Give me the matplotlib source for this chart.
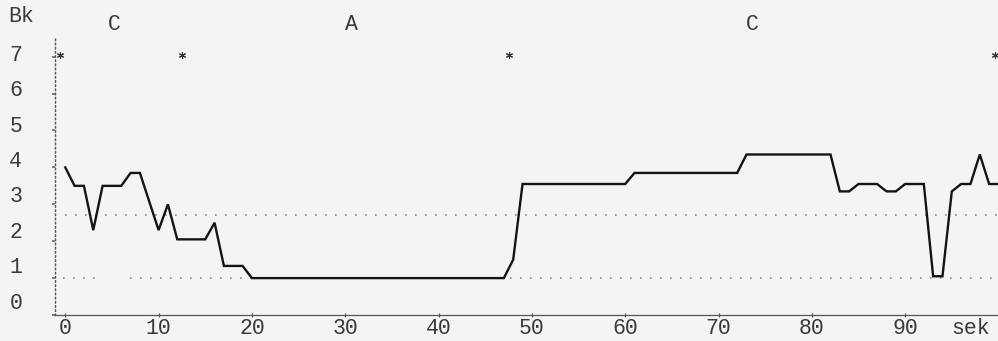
import matplotlib
matplotlib.use("Agg")
import matplotlib.pyplot as plt
import numpy as np

# Time (s) and Bk values of the trace
seconds = [0, 1, 2, 3, 4, 6, 7, 8, 10, 11, 12, 15, 16, 17, 19, 20,
           47, 48, 49, 60, 61, 72, 73, 82, 83, 84, 85, 87, 88, 89, 90,
           92, 93, 94, 95, 96, 97, 98, 99, 100]
bk = [4.0, 3.5, 3.5, 2.3, 3.5, 3.5, 3.85, 3.85, 2.3, 3.0, 2.05, 2.05, 2.5,
      1.33, 1.33, 1.0, 1.0, 1.5, 3.55, 3.55, 3.85, 3.85, 4.35, 4.35, 3.35,
      3.35, 3.55, 3.55, 3.35, 3.35, 3.55, 3.55, 1.05, 1.05, 3.35, 3.55,
      3.55, 4.35, 3.55, 3.55]

# Reference levels
upper_level = 2.72
lower_level = 1.0

# Segment markers and phase labels
marker_times = [-0.6, 12.5, 47.5, 99.6]
marker_level = 7.05
phase_labels = ["C", "A", "C"]
phase_times = [5.3, 30.7, 73.6]

x_ticks = [0, 10, 20, 30, 40, 50, 60, 70, 80, 90]
y_ticks = [0, 1, 2, 3, 4, 5, 6, 7]

bg = "#f4f4f2"
ink = "#3a3a3a"
font = ["Liberation Mono", "DejaVu Sans Mono"]
fs = 15.5

fig = plt.figure(figsize=(9.98, 3.41), dpi=100, facecolor=bg)
W, H = 998, 341
ax = fig.add_axes([55 / W, (H - 315) / H, 943 / W, 278 / H])
ax.set_facecolor(bg)
ax.set_xlim(-1.1, 99.95)
ax.set_ylim(0, 278 / 36.9)

# Dotted reference lines
dot = (0, (1, 5))
ax.plot([0, 100], [upper_level, upper_level], color="#8a8a8a", lw=1.2,
        linestyle=dot, clip_on=False)
ax.plot([-0.2, 3.2], [lower_level, lower_level], color="#8a8a8a", lw=1.2,
        linestyle=dot)
ax.plot([6.9, 100], [lower_level, lower_level], color="#8a8a8a", lw=1.2,
        linestyle=dot, clip_on=False)

# Main trace
ax.plot(seconds, bk, color="#141414", lw=1.7, solid_joinstyle="miter",
        clip_on=False, zorder=3)

# Segment markers
ax.plot(marker_times, [marker_level] * len(marker_times), linestyle="none",
        marker=(6, 2, 0), markersize=5, markeredgewidth=0.8, color="#333333",
        clip_on=False)

for lab, t in zip(phase_labels, phase_times):
    ax.text(t, 7.86, lab, ha="center", va="center", family=font, fontsize=fs,
            color=ink, clip_on=False)

# Axes styling
for s in ["top", "right"]:
    ax.spines[s].set_visible(False)
ax.spines["left"].set_linestyle((0, (1, 2)))
ax.spines["left"].set_color("#555555")
ax.spines["left"].set_linewidth(1.0)
ax.spines["bottom"].set_linestyle((0, (2.5, 1)))
ax.spines["bottom"].set_color("#555555")
ax.spines["bottom"].set_linewidth(0.9)

ax.set_xticks(x_ticks)
ax.set_xticklabels([str(v) for v in x_ticks], family=font, fontsize=fs,
                   color=ink)
ax.tick_params(axis="x", length=3, width=0.9, color="#555555", direction="inout",
               pad=1)
ax.set_yticks(y_ticks)
ax.set_yticklabels([])
ax.tick_params(axis="y", length=2, width=1.2, color="#666666", direction="out")

# Typewritten y labels (typed with slightly tighter line spacing)
for v in y_ticks:
    ax.text(-5.3, 0.325 + 0.959 * v, str(v), ha="center", va="center",
            family=font, fontsize=fs, color=ink, clip_on=False)

ax.text(-4.7, 8.1, "Bk", ha="center", va="center", family=font, fontsize=fs,
        color=ink, clip_on=False)
ax.text(97.0, -0.37, "sek", ha="center", va="center", family=font, fontsize=fs,
        color=ink, clip_on=False)

fig.savefig("out.png", dpi=100, facecolor=bg)
